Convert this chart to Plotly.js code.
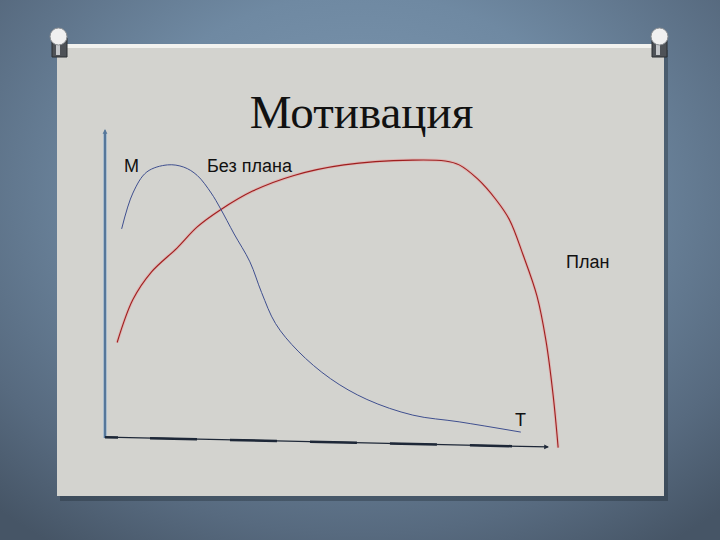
<!DOCTYPE html>
<html>
<head>
<meta charset="utf-8">
<script src="https://cdn.plot.ly/plotly-3.0.1.min.js"></script>
<style>
html,body{margin:0;padding:0;width:720px;height:540px;overflow:hidden;
background:radial-gradient(ellipse 75% 80% at 50% 35%, #7f99b2 0%, #6f89a2 45%, #576a7f 80%, #465566 100%);}
#chart{width:720px;height:540px;}
</style>
</head>
<body>
<div id="chart"></div>
<script>
// Data: time (T) vs motivation (M)
const withoutPlanT = [3.7, 6.2, 9.3, 13.9, 17.5, 20.5, 23.6, 25.6, 28.7, 32.2, 34.8, 37.9, 42.9, 50.1, 58.2, 68.4, 78.7, 92.4];
const withoutPlanM = [69.1, 80.3, 86.9, 89.1, 88.4, 85.8, 80.3, 75.6, 67.5, 58.8, 49.2, 39.5, 30.9, 22.3, 15.8, 10.9, 8.8, 5.6];
const planT = [2.7, 6.2, 10.3, 16.0, 20.5, 25.6, 32.8, 42.0, 53.1, 68.4, 75.6, 78.7, 82.8, 86.9, 89.9, 92.9, 96.0, 98.0, 99.6, 100.7];
const planM = [33.6, 47.0, 55.6, 63.1, 69.7, 75.0, 80.9, 85.8, 89.1, 90.6, 90.3, 89.1, 84.7, 78.2, 71.9, 61.0, 48.1, 34.1, 16.9, 0.75];
const titleText = "Мотивация";
const labelM = "М";
const labelT = "Т";
const labelNoPlan = "Без плана";
const labelPlan = "План";

// pixel -> paper helpers (plot area: x 105..565, y 130..450)
const L = 105, R = 565, TOP = 130, BOT = 450;
const X = px => (px - L) / (R - L);
const Y = py => (BOT - py) / (BOT - TOP);

const traces = [
  {x: planT, y: planM, mode: 'lines', line: {shape: 'spline', smoothing: 1, color: 'rgba(240,140,140,0.4)', width: 3}, hoverinfo: 'skip'},
  {x: planT, y: planM, mode: 'lines', line: {shape: 'spline', smoothing: 1, color: '#9e1f1f', width: 1.1}},
  {x: withoutPlanT, y: withoutPlanM, mode: 'lines', line: {shape: 'spline', smoothing: 1, color: '#3f4f8f', width: 1}}
];

const shapes = [
  // panel shadow
  {type: 'rect', xref: 'paper', yref: 'paper', x0: X(60), x1: X(668), y0: Y(501), y1: Y(50), fillcolor: 'rgba(30,40,50,0.35)', line: {width: 0}, layer: 'below'},
  // panel
  {type: 'rect', xref: 'paper', yref: 'paper', x0: X(57), x1: X(664), y0: Y(496), y1: Y(45), fillcolor: '#d3d3cf', line: {width: 0}, layer: 'below'},
  // top white edge
  {type: 'rect', xref: 'paper', yref: 'paper', x0: X(57), x1: X(664), y0: Y(48), y1: Y(44), fillcolor: '#f2f2ef', line: {width: 0}, layer: 'below'},
  // pins: bodies
  {type: 'rect', xref: 'paper', yref: 'paper', x0: X(52), x1: X(67), y0: Y(57), y1: Y(38), fillcolor: '#4e5257', line: {color: '#2a2e32', width: 1}, layer: 'below'},
  {type: 'rect', xref: 'paper', yref: 'paper', x0: X(652), x1: X(667), y0: Y(57), y1: Y(38), fillcolor: '#4e5257', line: {color: '#2a2e32', width: 1}, layer: 'below'},
  {type: 'rect', xref: 'paper', yref: 'paper', x0: X(56), x1: X(60), y0: Y(55), y1: Y(40), fillcolor: '#c4c7ca', line: {width: 0}, layer: 'below'},
  {type: 'rect', xref: 'paper', yref: 'paper', x0: X(656), x1: X(660), y0: Y(55), y1: Y(40), fillcolor: '#c4c7ca', line: {width: 0}, layer: 'below'},
  // pins: heads
  {type: 'circle', xref: 'paper', yref: 'paper', x0: X(50), x1: X(67), y0: Y(45), y1: Y(28), fillcolor: '#f0f0f0', line: {color: '#8a8e92', width: 1}, layer: 'below'},
  {type: 'circle', xref: 'paper', yref: 'paper', x0: X(651), x1: X(668), y0: Y(45), y1: Y(28), fillcolor: '#f0f0f0', line: {color: '#8a8e92', width: 1}, layer: 'below'},
  // y axis halo + line
  {type: 'line', xref: 'paper', yref: 'paper', x0: X(105), x1: X(105), y0: Y(438), y1: Y(133), line: {color: '#a9bccd', width: 4}},
  {type: 'line', xref: 'paper', yref: 'paper', x0: X(105), x1: X(105), y0: Y(438), y1: Y(133), line: {color: '#56779a', width: 2}},
  // x axis thick segments
  {type: 'line', xref: 'paper', yref: 'paper', x0: X(105), x1: X(118), y0: Y(437.3), y1: Y(437.6), line: {color: '#1e2838', width: 2.5}},
  {type: 'line', xref: 'paper', yref: 'paper', x0: X(150), x1: X(512), y0: Y(438.3), y1: Y(446.2), line: {color: '#1e2838', width: 2.5, dash: '47px,33px'}}
];

const annotations = [
  // x axis arrow
  {xref: 'paper', yref: 'paper', x: X(549), y: Y(447), ax: 105 - 549, ay: 437 - 447, showarrow: true, arrowhead: 2, arrowsize: 0.8, arrowwidth: 1.2, arrowcolor: '#1e2838', text: ''},
  // y axis arrow tip
  {xref: 'paper', yref: 'paper', x: X(105), y: Y(129), ax: 0, ay: 12, showarrow: true, arrowhead: 2, arrowsize: 0.8, arrowwidth: 1.2, arrowcolor: '#56779a', text: ''},
  {xref: 'paper', yref: 'paper', x: X(131), y: Y(165.5), text: labelM, showarrow: false, xanchor: 'center', yanchor: 'middle', font: {family: 'Liberation Sans, Arial', size: 18, color: '#111'}},
  {xref: 'paper', yref: 'paper', x: X(250), y: Y(166), text: labelNoPlan, showarrow: false, xanchor: 'center', yanchor: 'middle', font: {family: 'Liberation Sans, Arial', size: 18, color: '#111'}},
  {xref: 'paper', yref: 'paper', x: X(587), y: Y(262), text: labelPlan, showarrow: false, xanchor: 'center', yanchor: 'middle', font: {family: 'Liberation Sans, Arial', size: 18, color: '#111'}},
  {xref: 'paper', yref: 'paper', x: X(520.5), y: Y(420), text: labelT, showarrow: false, xanchor: 'center', yanchor: 'middle', font: {family: 'Liberation Sans, Arial', size: 18, color: '#111'}}
];

const layout = {
  width: 720, height: 540,
  margin: {l: L, r: 720 - R, t: TOP, b: 540 - BOT, pad: 0},
  paper_bgcolor: 'rgba(0,0,0,0)',
  plot_bgcolor: 'rgba(0,0,0,0)',
  showlegend: false,
  title: {text: titleText, x: 361.5 / 720, xanchor: 'center', y: 1 - 112 / 540, yanchor: 'middle',
          font: {family: 'Liberation Serif, Times New Roman, serif', size: 47, color: '#111'}},
  xaxis: {range: [0, 102.222], showgrid: false, zeroline: false, showline: false, showticklabels: false, ticks: '', fixedrange: true},
  yaxis: {range: [0, 100], showgrid: false, zeroline: false, showline: false, showticklabels: false, ticks: '', fixedrange: true},
  shapes: shapes,
  annotations: annotations
};

Plotly.newPlot('chart', traces, layout, {staticPlot: true, displayModeBar: false});
</script>
</body>
</html>
